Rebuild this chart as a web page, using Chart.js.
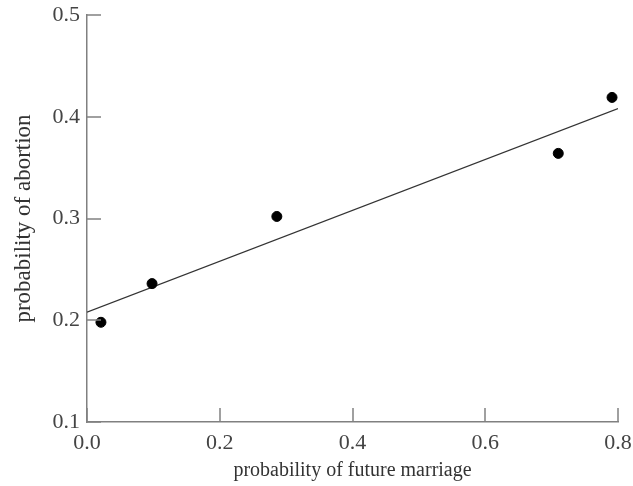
<!DOCTYPE html>
<html>
<head>
<meta charset="utf-8">
<script src="https://cdn.jsdelivr.net/npm/chart.js@4/dist/chart.umd.min.js"></script>
<style>
  body { margin: 0; background: #fff; }
  #wrap { width: 633px; height: 486px; }
</style>
</head>
<body>
<div id="wrap"><canvas id="chart" width="633" height="486"></canvas></div>
<script>
// observed points
const marriageProb = [0.021, 0.098, 0.286, 0.710, 0.791];
const abortionProb = [0.198, 0.236, 0.302, 0.364, 0.419];

// fitted line end points
const fitX = [0.0, 0.8];
const fitY = [0.208, 0.408];

const xTicks = [0.0, 0.2, 0.4, 0.6, 0.8];
const yTicks = [0.1, 0.2, 0.3, 0.4, 0.5];

const axisColor = '#808080';
const serif = "'Liberation Serif', 'DejaVu Serif', serif";

// tick marks point inward, draw them ourselves
const innerTicks = {
    id: 'innerTicks',
    afterDraw(chart) {
        const c = chart.ctx;
        const xs = chart.scales.x, ys = chart.scales.y;
        c.save();
        c.strokeStyle = axisColor;
        c.lineWidth = 1.5;
        xTicks.forEach(v => {
            const px = Math.round(xs.getPixelForValue(v));
            c.beginPath();
            c.moveTo(px, ys.bottom);
            c.lineTo(px, ys.bottom - 14);
            c.stroke();
        });
        yTicks.forEach(v => {
            const py = Math.round(ys.getPixelForValue(v));
            c.beginPath();
            c.moveTo(xs.left, py);
            c.lineTo(xs.left + 14, py);
            c.stroke();
        });
        c.restore();
    }
};

const points = marriageProb.map((x, i) => ({ x: x, y: abortionProb[i] }));
const fit = fitX.map((x, i) => ({ x: x, y: fitY[i] }));

new Chart(document.getElementById('chart'), {
    type: 'scatter',
    data: {
        datasets: [{
            data: points,
            backgroundColor: '#000',
            borderColor: '#000',
            pointRadius: 5,
            pointHoverRadius: 5
        }, {
            data: fit,
            showLine: true,
            borderColor: '#333',
            borderWidth: 1.2,
            pointRadius: 0,
            fill: false
        }]
    },
    options: {
        responsive: false,
        animation: false,
        layout: { padding: { top: 15, right: 15, left: 0, bottom: 0 } },
        plugins: { legend: { display: false }, tooltip: { enabled: false } },
        scales: {
            x: {
                type: 'linear',
                min: 0, max: 0.8,
                afterBuildTicks: s => { s.ticks = xTicks.map(v => ({ value: v })); },
                afterFit: s => { s.height = 64; s.paddingLeft = 0; s.paddingRight = 0; },
                grid: { display: false, drawTicks: false },
                border: { display: true, color: axisColor, width: 1.5 },
                ticks: {
                    color: '#444',
                    font: { family: serif, size: 22 },
                    padding: 8,
                    maxRotation: 0,
                    callback: v => v.toFixed(1)
                },
                title: {
                    display: true,
                    text: 'probability of future marriage',
                    color: '#333',
                    font: { family: serif, size: 20 },
                    padding: { top: 0, bottom: 3 }
                }
            },
            y: {
                type: 'linear',
                min: 0.1, max: 0.5,
                afterBuildTicks: s => { s.ticks = yTicks.map(v => ({ value: v })); },
                afterFit: s => { s.width = 87; s.paddingTop = 0; s.paddingBottom = 0; },
                grid: { display: false, drawTicks: false },
                border: { display: true, color: axisColor, width: 1.5 },
                ticks: {
                    color: '#444',
                    font: { family: serif, size: 22 },
                    padding: 7,
                    callback: v => v.toFixed(1)
                },
                title: {
                    display: true,
                    text: 'probability of abortion',
                    color: '#333',
                    font: { family: serif, size: 23 },
                    padding: { top: 10, bottom: 0 }
                }
            }
        }
    },
    plugins: [innerTicks]
});
</script>
</body>
</html>
